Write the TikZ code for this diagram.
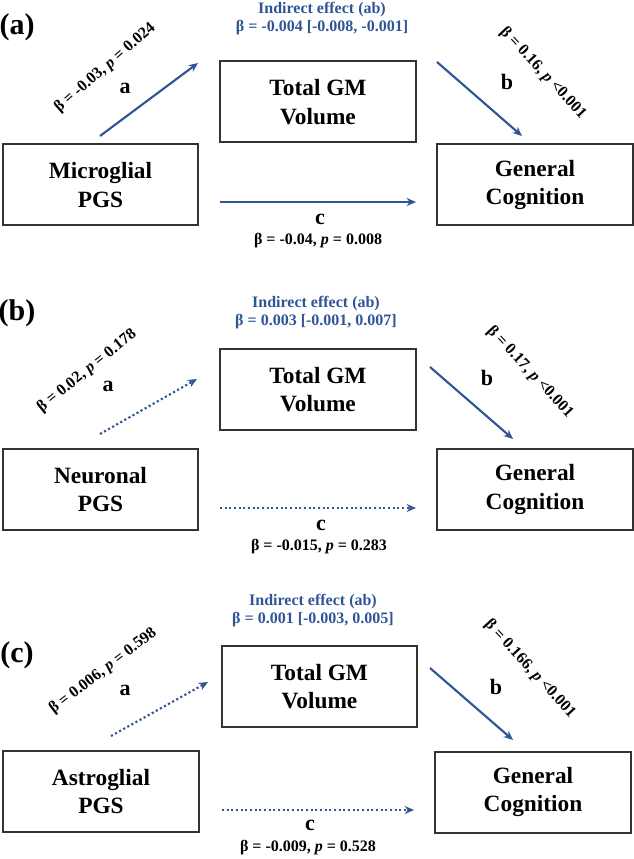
\documentclass[tikz,border=0pt]{standalone}
\usepackage{fontspec}
\setmainfont{Liberation Serif}
\usepackage{xcolor}
\definecolor{pathblue}{RGB}{47,85,151}
\definecolor{boxgray}{RGB}{50,50,50}
\usetikzlibrary{arrows.meta}
\newcommand{\coefp}[2]{β = #1, \textit{p} #2}
\tikzset{
    var/.style={draw=boxgray, line width=1.5pt, minimum width=146.5pt, minimum height=60.75pt,
        align=center, font=\bfseries\fontsize{17.5}{21.5}\selectfont},
    effect/.style={pathblue, line width=1.6pt, -{Stealth[length=7pt,width=6pt]}},
    nsig/.style={effect, dash pattern=on 1.6pt off 1.9pt},
    coef/.style={inner sep=0pt, font=\bfseries\fontsize{12}{14}\selectfont},
    letter/.style={inner sep=0pt, font=\bfseries\fontsize{16.5}{18}\selectfont},
    panellbl/.style={inner sep=0pt, font=\bfseries\fontsize{22.5}{24}\selectfont},
    indirect/.style={pathblue, inner sep=0pt, align=center, font=\bfseries\fontsize{12}{13.5}\selectfont}
}
\begin{document}
\begin{tikzpicture}[x=0.75pt, y=-0.75pt]
    \useasboundingbox (0,0) rectangle (634,859);

    % (a) microglial
    \node[panellbl] (labA) at (17,27) {(a)};
    \node[indirect] (indA) at (322,19) {Indirect effect (ab)\\β = -0.004 [-0.008, -0.001]};
    \node[var] (gmA) at (318,102) {Total GM\\Volume};
    \node[var] (pgsA) at (100.5,185) {Microglial\\PGS};
    \node[var] (cogA) at (535,185) {General\\Cognition};
    \coordinate (aA0) at (100,136);
    \coordinate (aA1) at (198,63);
    \coordinate (bA0) at (437,62);
    \coordinate (bA1) at (522,136);
    \coordinate (cA0) at (220,202);
    \coordinate (cA1) at (416,202);
    \draw[effect] (aA0) -- (aA1);
    \draw[effect] (bA0) -- (bA1);
    \draw[effect] (cA0) -- (cA1);
    \node[coef, rotate=41] (caA) at (105,68) {\coefp{-0.03}{= 0.024}};
    \node[letter] (laA) at (125,88) {a};
    \node[coef, rotate=-47] (cbA) at (543,73) {\coefp{0.16}{<0.001}};
    \node[letter] (lbA) at (507,82) {b};
    \node[letter] (lcA) at (320,219) {c};
    \node[coef] (ccA) at (318,241) {\coefp{-0.04}{= 0.008}};

    % (b) neuronal
    \node[panellbl] (labB) at (17,313) {(b)};
    \node[indirect] (indB) at (316,312.5) {Indirect effect (ab)\\β = 0.003 [-0.001, 0.007]};
    \node[var] (gmB) at (318,389.5) {Total GM\\Volume};
    \node[var] (pgsB) at (100.5,489.5) {Neuronal\\PGS};
    \node[var] (cogB) at (535,489.5) {General\\Cognition};
    \coordinate (aB0) at (100,434);
    \coordinate (aB1) at (197,379);
    \coordinate (bB0) at (430,367);
    \coordinate (bB1) at (513,439);
    \coordinate (cB0) at (220,508);
    \coordinate (cB1) at (416,508);
    \draw[nsig] (aB0) -- (aB1);
    \draw[effect] (bB0) -- (bB1);
    \draw[nsig] (cB0) -- (cB1);
    \node[coef, rotate=39] (caB) at (87,371) {\coefp{0.02}{= 0.178}};
    \node[letter] (laB) at (108,386) {a};
    \node[coef, rotate=-47] (cbB) at (530,372) {\coefp{0.17}{<0.001}};
    \node[letter] (lbB) at (487,378) {b};
    \node[letter] (lcB) at (321,525) {c};
    \node[coef] (ccB) at (319,547) {\coefp{-0.015}{= 0.283}};

    % (c) astroglial
    \node[panellbl] (labC) at (17,655) {(c)};
    \node[indirect] (indC) at (313,611) {Indirect effect (ab)\\β = 0.001 [-0.003, 0.005]};
    \node[var] (gmC) at (319.5,686.5) {Total GM\\Volume};
    \node[var] (pgsC) at (101,791.5) {Astroglial\\PGS};
    \node[var] (cogC) at (533,792) {General\\Cognition};
    \coordinate (aC0) at (111,736);
    \coordinate (aC1) at (208,682);
    \coordinate (bC0) at (430,668);
    \coordinate (bC1) at (513,740);
    \coordinate (cC0) at (222,810);
    \coordinate (cC1) at (414,810);
    \draw[nsig] (aC0) -- (aC1);
    \draw[effect] (bC0) -- (bC1);
    \draw[nsig] (cC0) -- (cC1);
    \node[coef, rotate=37.5] (caC) at (103,671) {\coefp{0.006}{= 0.598}};
    \node[letter] (laC) at (125,690) {a};
    \node[coef, rotate=-47.5] (cbC) at (530,669) {\coefp{0.166}{<0.001}};
    \node[letter] (lbC) at (496,687) {b};
    \node[letter] (lcC) at (310,825) {c};
    \node[coef] (ccC) at (308,848) {\coefp{-0.009}{= 0.528}};
\end{tikzpicture}
\end{document}
